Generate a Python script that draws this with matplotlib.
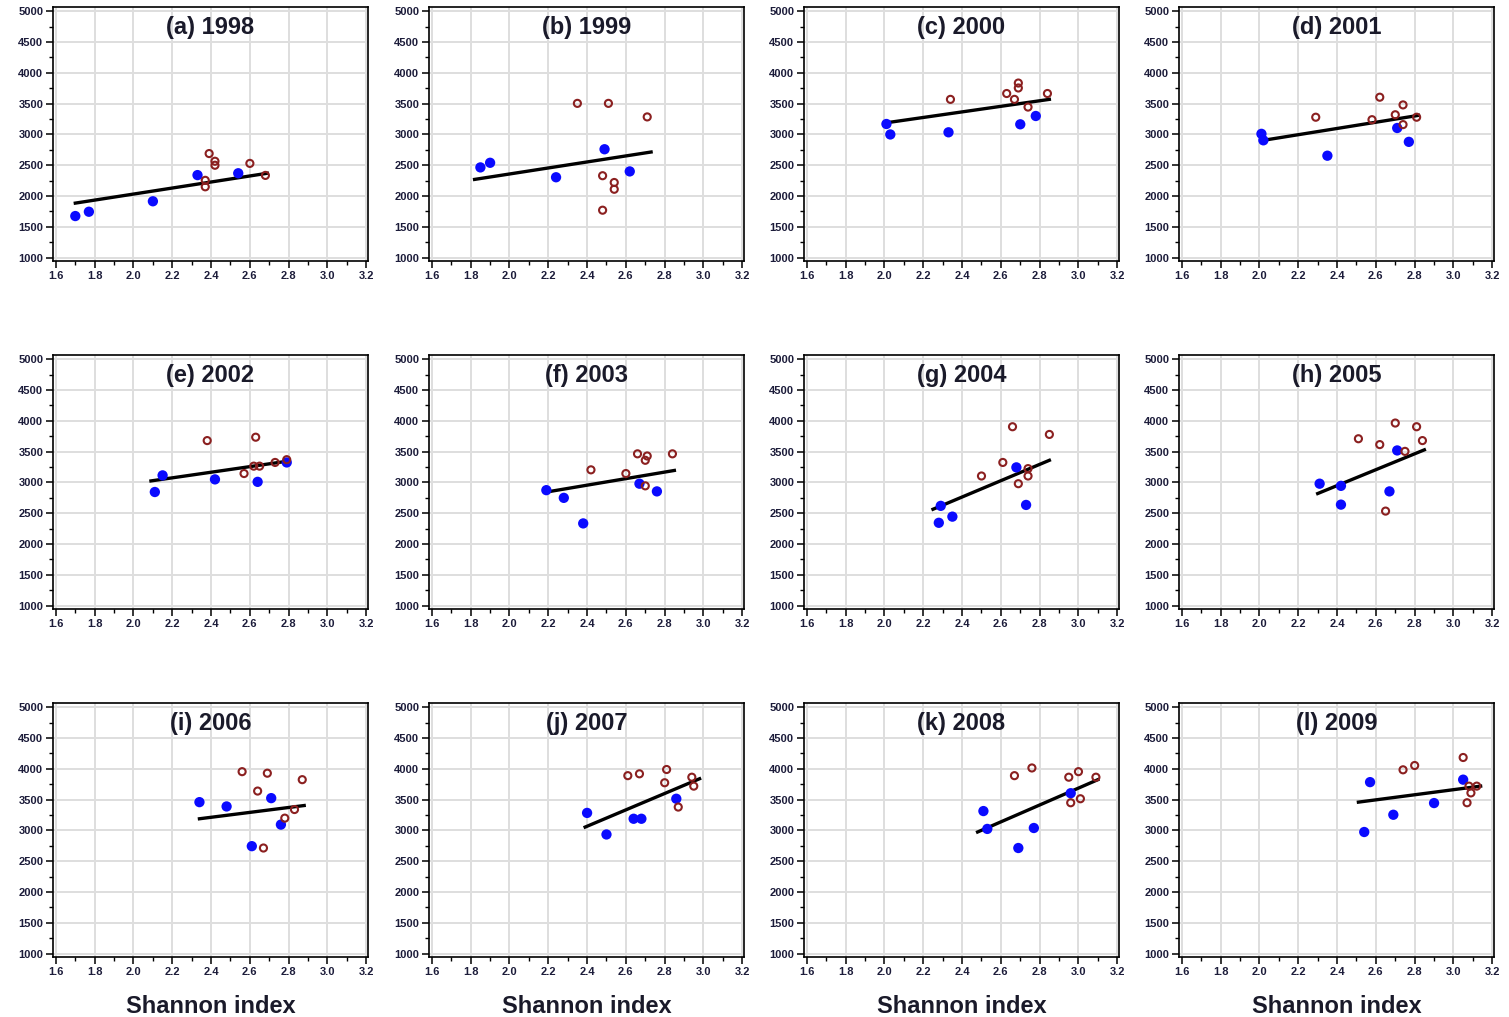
import numpy as np
import matplotlib
matplotlib.use("Agg")
import matplotlib.pyplot as plt
from matplotlib.ticker import MultipleLocator

plt.rcParams["font.family"] = ["Liberation Sans", "DejaVu Sans"]

# panel titles
titles = ["(a) 1998", "(b) 1999", "(c) 2000", "(d) 2001",
          "(e) 2002", "(f) 2003", "(g) 2004", "(h) 2005",
          "(i) 2006", "(j) 2007", "(k) 2008", "(l) 2009"]

# filled (blue) points, one list per panel
filled_x = [
    [1.70, 1.77, 2.10, 2.33, 2.54],
    [1.85, 1.90, 2.24, 2.49, 2.62],
    [2.01, 2.03, 2.33, 2.70, 2.78],
    [2.01, 2.02, 2.35, 2.71, 2.77],
    [2.11, 2.15, 2.42, 2.64, 2.79],
    [2.19, 2.28, 2.38, 2.67, 2.76],
    [2.28, 2.29, 2.35, 2.68, 2.73],
    [2.31, 2.42, 2.42, 2.67, 2.71],
    [2.34, 2.48, 2.61, 2.71, 2.76],
    [2.40, 2.50, 2.64, 2.68, 2.86],
    [2.51, 2.53, 2.69, 2.77, 2.96],
    [2.54, 2.57, 2.69, 2.90, 3.05],
]
filled_y = [
    [1675, 1745, 1915, 2340, 2370],
    [2465, 2540, 2305, 2760, 2400],
    [3170, 3000, 3035, 3165, 3300],
    [3010, 2905, 2655, 3105, 2880],
    [2845, 3115, 3050, 3010, 3325],
    [2875, 2750, 2335, 2980, 2855],
    [2345, 2620, 2445, 3245, 2635],
    [2980, 2945, 2640, 2855, 3520],
    [3460, 3390, 2745, 3525, 3095],
    [3285, 2935, 3190, 3190, 3515],
    [3315, 3025, 2715, 3040, 3605],
    [2975, 3785, 3255, 3445, 3825],
]

# open (dark red) points, one list per panel
open_x = [
    [2.39, 2.42, 2.42, 2.60, 2.37, 2.37, 2.68],
    [2.35, 2.51, 2.71, 2.48, 2.54, 2.54, 2.48],
    [2.34, 2.63, 2.69, 2.69, 2.67, 2.74, 2.84],
    [2.29, 2.62, 2.58, 2.70, 2.74, 2.74, 2.81],
    [2.38, 2.63, 2.57, 2.62, 2.65, 2.73, 2.79],
    [2.42, 2.60, 2.66, 2.71, 2.70, 2.70, 2.84],
    [2.50, 2.61, 2.66, 2.69, 2.74, 2.74, 2.85],
    [2.51, 2.62, 2.70, 2.81, 2.84, 2.75, 2.65],
    [2.56, 2.69, 2.87, 2.64, 2.78, 2.83, 2.67],
    [2.61, 2.67, 2.81, 2.80, 2.94, 2.95, 2.87],
    [2.67, 2.76, 2.95, 3.00, 3.09, 2.96, 3.01],
    [2.74, 2.80, 3.05, 3.08, 3.12, 3.09, 3.07],
]
open_y = [
    [2690, 2565, 2500, 2530, 2255, 2150, 2335],
    [3505, 3505, 3285, 2330, 2220, 2110, 1770],
    [3570, 3665, 3835, 3755, 3570, 3445, 3665],
    [3280, 3605, 3240, 3320, 3480, 3160, 3280],
    [3680, 3735, 3145, 3265, 3265, 3325, 3370],
    [3205, 3145, 3465, 3430, 3360, 2945, 3465],
    [3105, 3325, 3905, 2980, 3225, 3105, 3780],
    [3710, 3615, 3965, 3905, 3680, 3505, 2535],
    [3955, 3930, 3825, 3640, 3200, 3340, 2715],
    [3890, 3920, 3990, 3775, 3865, 3720, 3380],
    [3890, 4015, 3865, 3955, 3865, 3450, 3515],
    [3985, 4055, 4185, 3720, 3720, 3610, 3450],
]

# regression line end points
fit_x0 = [1.70, 1.82, 2.01, 2.02, 2.09, 2.21, 2.25, 2.30, 2.34, 2.39, 2.48, 2.51]
fit_y0 = [1885, 2270, 3190, 2905, 3025, 2855, 2565, 2820, 3190, 3055, 2975, 3460]
fit_x1 = [2.69, 2.73, 2.85, 2.82, 2.76, 2.85, 2.85, 2.85, 2.88, 2.98, 3.10, 3.14]
fit_y1 = [2370, 2715, 3570, 3310, 3330, 3195, 3360, 3530, 3405, 3840, 3825, 3720]

W, H = 1509, 1017
col_left = [53, 429, 804, 1179]
row_top = [7, 355, 703]
ax_w, ax_h = 315, 254

fig = plt.figure(figsize=(W / 100, H / 100), dpi=100)
tick_color = "#1c1c3a"

for i, title in enumerate(titles):
    r, c = divmod(i, 4)
    left = col_left[c] / W
    bottom = 1 - (row_top[r] + ax_h) / H
    ax = fig.add_axes([left, bottom, ax_w / W, ax_h / H])

    ax.set_xlim(1.585, 3.209)
    ax.set_ylim(945, 5070)
    ax.xaxis.set_major_locator(MultipleLocator(0.2))
    ax.xaxis.set_minor_locator(MultipleLocator(0.1))
    ax.yaxis.set_major_locator(MultipleLocator(500))
    ax.yaxis.set_minor_locator(MultipleLocator(250))
    ax.set_xticks(np.arange(1.6, 3.21, 0.2))
    ax.set_xticklabels([f"{v:.1f}" for v in np.arange(1.6, 3.21, 0.2)])
    ax.set_yticks(np.arange(1000, 5001, 500))
    ax.grid(True, which="major", color="#dedede", linewidth=1.4, zorder=0)
    ax.set_axisbelow(True)
    ax.tick_params(which="major", direction="out", length=5, width=1.1,
                   labelsize=8, colors="black", labelcolor=tick_color, pad=2)
    ax.tick_params(which="minor", direction="out", length=3, width=1.0)
    for lab in ax.get_xticklabels() + ax.get_yticklabels():
        lab.set_fontweight("bold")
    for sp in ax.spines.values():
        sp.set_linewidth(1.2)

    ax.plot([fit_x0[i], fit_x1[i]], [fit_y0[i], fit_y1[i]], color="black",
            linewidth=2.4, zorder=2)
    ax.scatter(filled_x[i], filled_y[i], s=55, color="#0a0aff", zorder=3,
               edgecolors="none")
    ax.scatter(open_x[i], open_y[i], s=26, facecolors="none",
               edgecolors="#8b2020", linewidths=1.5, zorder=4)

    ax.text(0.5, 0.918, title, transform=ax.transAxes, ha="center",
            va="center", fontsize=17, fontweight="bold", color="#1a1a2a")

    if r == 2:
        ax.text(0.5, -0.195, "Shannon index", transform=ax.transAxes,
                ha="center", va="center", fontsize=17, fontweight="bold",
                color="#1a1a2a")

fig.savefig("out.png", dpi=100)
plt.close(fig)
